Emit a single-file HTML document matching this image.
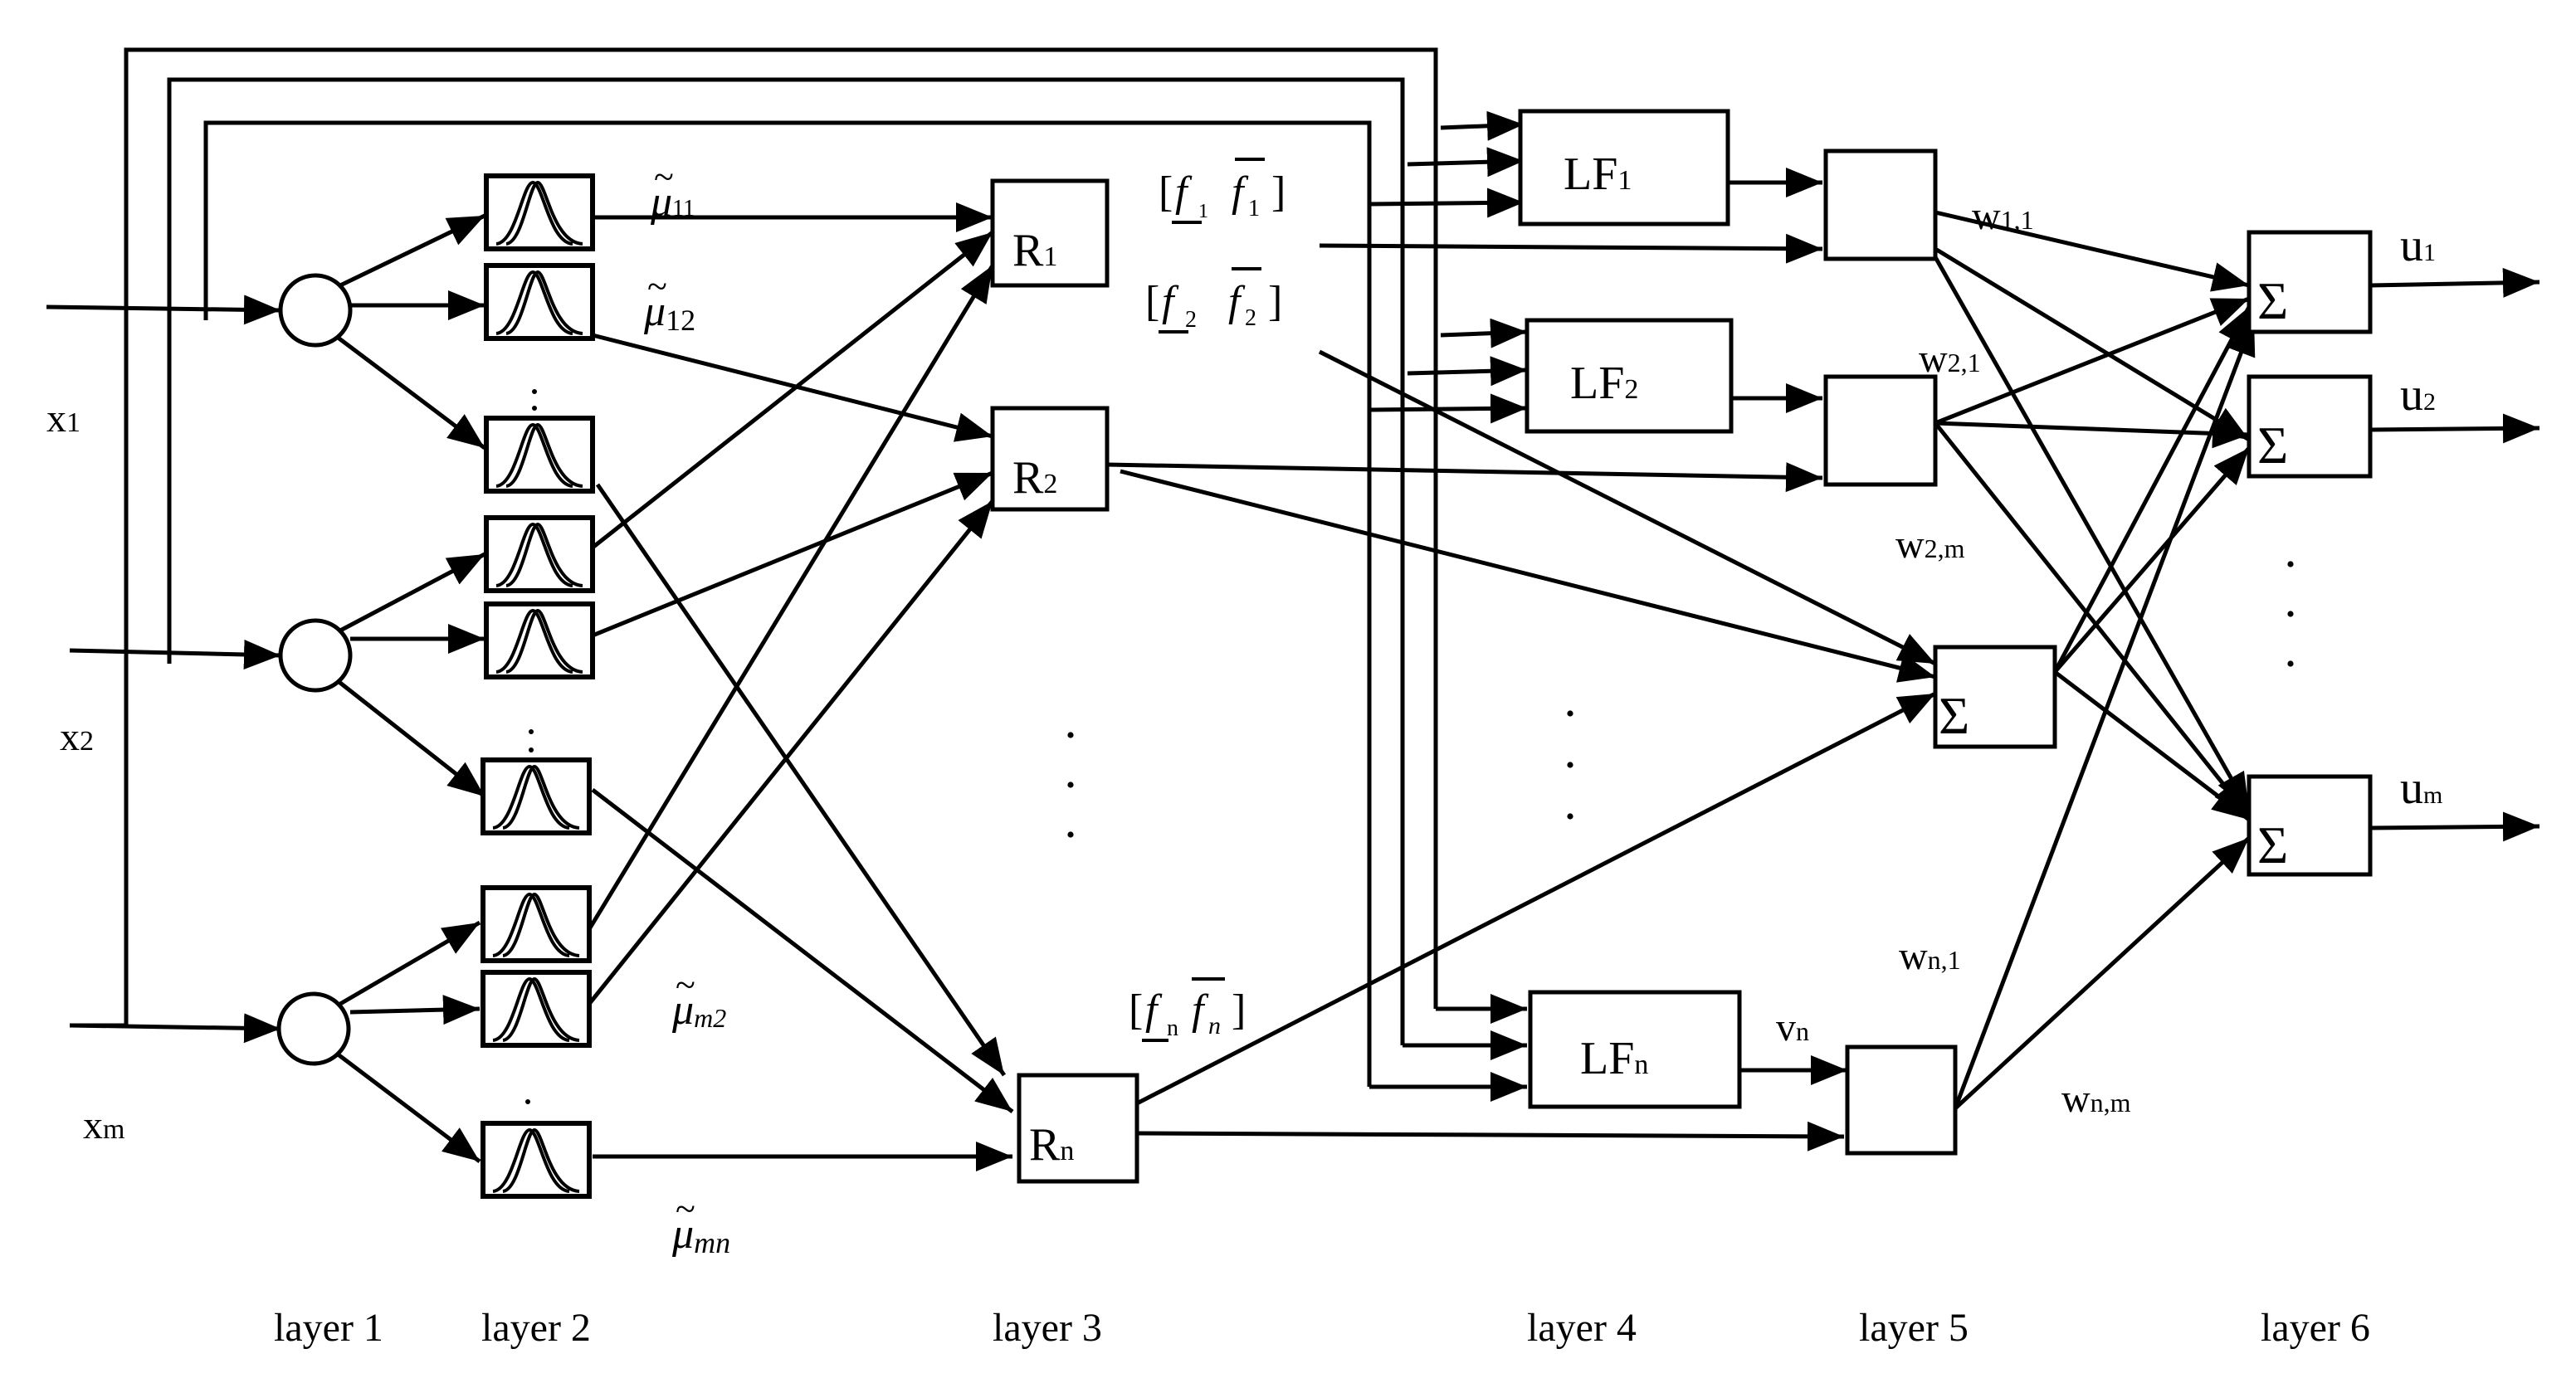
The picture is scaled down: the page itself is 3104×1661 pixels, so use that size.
<!DOCTYPE html>
<html><head><meta charset="utf-8"><style>
html,body{margin:0;padding:0;background:#fff;}
svg{display:block;}
text{font-family:"Liberation Serif",serif;fill:#000;}
</style></head><body>
<svg width="3104" height="1661" viewBox="0 0 1552 830.5" xmlns="http://www.w3.org/2000/svg">
<defs>
<marker id="a" markerUnits="userSpaceOnUse" markerWidth="24" markerHeight="20" refX="22" refY="9" orient="auto">
<path d="M0,0 L22,9 L0,18 Z" fill="#000"/></marker>
<g id="g">
<rect x="0" y="0" width="64" height="44" fill="#fff" stroke="#000" stroke-width="3"/>
<path d="M6,41 C18,40 22,4 28,4 C34,4 38,40 52,41" fill="none" stroke="#000" stroke-width="2"/>
<path d="M12,41 C22,40 26,4 31,4 C36,4 40,40 58,41" fill="none" stroke="#000" stroke-width="2"/>
</g>
</defs>
<g fill="none" stroke="#000" stroke-width="2.5">
<polyline points="42,618 76,618 76,30 865,30 865,608"/>
<line x1="865" y1="608" x2="920" y2="608" marker-end="url(#a)"/>
<polyline points="102,400 102,48 845,48 845,630"/>
<line x1="845" y1="630" x2="920" y2="630" marker-end="url(#a)"/>
<polyline points="124,193 124,74 825,74 825,655"/>
<line x1="825" y1="655" x2="920" y2="655" marker-end="url(#a)"/>
<line x1="868" y1="77" x2="918" y2="75" marker-end="url(#a)"/>
<line x1="848" y1="99" x2="918" y2="97" marker-end="url(#a)"/>
<line x1="825" y1="123" x2="918" y2="122" marker-end="url(#a)"/>
<line x1="868" y1="202" x2="920" y2="200" marker-end="url(#a)"/>
<line x1="848" y1="225" x2="920" y2="223" marker-end="url(#a)"/>
<line x1="825" y1="247" x2="920" y2="246" marker-end="url(#a)"/>
<line x1="28" y1="185" x2="169" y2="187" marker-end="url(#a)"/>
<line x1="42" y1="392" x2="169" y2="395" marker-end="url(#a)"/>
<line x1="42" y1="618" x2="169" y2="620" marker-end="url(#a)"/>
<line x1="205" y1="172" x2="292" y2="130" marker-end="url(#a)"/>
<line x1="211" y1="184" x2="292" y2="184" marker-end="url(#a)"/>
<line x1="203" y1="203" x2="292" y2="270" marker-end="url(#a)"/>
<line x1="205" y1="380" x2="292" y2="334" marker-end="url(#a)"/>
<line x1="211" y1="385" x2="292" y2="385" marker-end="url(#a)"/>
<line x1="203" y1="410" x2="292" y2="480" marker-end="url(#a)"/>
<line x1="205" y1="605" x2="289" y2="556" marker-end="url(#a)"/>
<line x1="211" y1="610" x2="289" y2="608" marker-end="url(#a)"/>
<line x1="203" y1="635" x2="289" y2="700" marker-end="url(#a)"/>
<line x1="357" y1="131" x2="598" y2="131" marker-end="url(#a)"/>
<line x1="357" y1="202" x2="598" y2="263" marker-end="url(#a)"/>
<line x1="360" y1="292" x2="605" y2="648" marker-end="url(#a)"/>
<line x1="357" y1="330" x2="598" y2="140" marker-end="url(#a)"/>
<line x1="357" y1="383" x2="598" y2="285" marker-end="url(#a)"/>
<line x1="357" y1="476" x2="610" y2="670" marker-end="url(#a)"/>
<line x1="355" y1="560" x2="598" y2="160" marker-end="url(#a)"/>
<line x1="355" y1="605" x2="598" y2="302" marker-end="url(#a)"/>
<line x1="357" y1="697" x2="610" y2="697" marker-end="url(#a)"/>
<line x1="795" y1="148" x2="1098" y2="150" marker-end="url(#a)"/>
<line x1="667" y1="280" x2="1098" y2="288" marker-end="url(#a)"/>
<line x1="675" y1="284" x2="1166" y2="408" marker-end="url(#a)"/>
<line x1="795" y1="212" x2="1166" y2="400" marker-end="url(#a)"/>
<line x1="685" y1="665" x2="1166" y2="418" marker-end="url(#a)"/>
<line x1="685" y1="683" x2="1111" y2="685" marker-end="url(#a)"/>
<line x1="1041" y1="110" x2="1098" y2="110" marker-end="url(#a)"/>
<line x1="1043" y1="240" x2="1098" y2="240" marker-end="url(#a)"/>
<line x1="1048" y1="645" x2="1113" y2="645" marker-end="url(#a)"/>
<line x1="1166" y1="128" x2="1355" y2="172" marker-end="url(#a)"/>
<line x1="1166" y1="150" x2="1355" y2="265" marker-end="url(#a)"/>
<line x1="1166" y1="155" x2="1355" y2="488" marker-end="url(#a)"/>
<line x1="1166" y1="255" x2="1355" y2="180" marker-end="url(#a)"/>
<line x1="1166" y1="255" x2="1355" y2="262" marker-end="url(#a)"/>
<line x1="1166" y1="255" x2="1355" y2="492" marker-end="url(#a)"/>
<line x1="1238" y1="405" x2="1355" y2="185" marker-end="url(#a)"/>
<line x1="1238" y1="405" x2="1355" y2="270" marker-end="url(#a)"/>
<line x1="1238" y1="405" x2="1355" y2="494" marker-end="url(#a)"/>
<line x1="1178" y1="668" x2="1358" y2="192" marker-end="url(#a)"/>
<line x1="1178" y1="668" x2="1355" y2="505" marker-end="url(#a)"/>
<line x1="1428" y1="172" x2="1530" y2="170" marker-end="url(#a)"/>
<line x1="1428" y1="259" x2="1530" y2="258" marker-end="url(#a)"/>
<line x1="1428" y1="499" x2="1530" y2="498" marker-end="url(#a)"/>
</g>
<g fill="#fff" stroke="#000" stroke-width="2.5">
<ellipse cx="190" cy="187" rx="21" ry="21"/>
<ellipse cx="190" cy="395" rx="21" ry="21"/>
<ellipse cx="189" cy="620" rx="21" ry="21"/>
<rect x="598" y="109" width="69" height="63"/>
<rect x="598" y="246" width="69" height="61"/>
<rect x="614" y="648" width="71" height="64"/>
<rect x="916" y="67" width="125" height="68"/>
<rect x="920" y="193" width="123" height="67"/>
<rect x="922" y="598" width="126" height="69"/>
<rect x="1100" y="91" width="66" height="65"/>
<rect x="1100" y="227" width="66" height="65"/>
<rect x="1113" y="631" width="65" height="64"/>
<rect x="1166" y="390" width="72" height="60"/>
<rect x="1355" y="140" width="73" height="60"/>
<rect x="1355" y="227" width="73" height="60"/>
<rect x="1355" y="468" width="73" height="59"/>
</g>
<use href="#g" x="293" y="106"/>
<use href="#g" x="293" y="160"/>
<use href="#g" x="293" y="252"/>
<use href="#g" x="293" y="312"/>
<use href="#g" x="293" y="364"/>
<use href="#g" x="291" y="458"/>
<use href="#g" x="291" y="535"/>
<use href="#g" x="291" y="586"/>
<use href="#g" x="291" y="677"/>
<g fill="#000">
<circle cx="322" cy="236" r="1.5"/><circle cx="322" cy="246" r="1.5"/>
<circle cx="320" cy="441" r="1.5"/><circle cx="320" cy="452" r="1.5"/>
<circle cx="318" cy="664" r="1.5"/>
<circle cx="645" cy="443" r="1.8"/><circle cx="645" cy="473" r="1.8"/><circle cx="645" cy="503" r="1.8"/>
<circle cx="946" cy="430" r="1.8"/><circle cx="946" cy="461" r="1.8"/><circle cx="946" cy="492" r="1.8"/>
<circle cx="1380" cy="340" r="1.8"/><circle cx="1380" cy="370" r="1.8"/><circle cx="1380" cy="400" r="1.8"/>
</g>
<g font-size="28">
<text x="610" y="160">R<tspan font-size="17">1</tspan></text>
<text x="610" y="297">R<tspan font-size="17">2</tspan></text>
<text x="620" y="699">R<tspan font-size="17">n</tspan></text>
<text x="942" y="114">LF<tspan font-size="17">1</tspan></text>
<text x="946" y="240">LF<tspan font-size="17">2</tspan></text>
<text x="952" y="647">LF<tspan font-size="17">n</tspan></text>
<text x="1168" y="442" font-size="32">Σ</text>
<text x="1360" y="192" font-size="32">Σ</text>
<text x="1360" y="279" font-size="32">Σ</text>
<text x="1360" y="520" font-size="32">Σ</text>
<text x="1446" y="157">u<tspan font-size="15">1</tspan></text>
<text x="1446" y="247">u<tspan font-size="15">2</tspan></text>
<text x="1446" y="484">u<tspan font-size="15">m</tspan></text>
</g>
<g font-size="24">
<text x="28" y="260">x<tspan font-size="17">1</tspan></text>
<text x="36" y="452">x<tspan font-size="17">2</tspan></text>
<text x="50" y="686">x<tspan font-size="17">m</tspan></text>
<text x="1188" y="138">w<tspan font-size="16">1,1</tspan></text>
<text x="1156" y="224">w<tspan font-size="16">2,1</tspan></text>
<text x="1142" y="336">w<tspan font-size="16">2,m</tspan></text>
<text x="1144" y="584">w<tspan font-size="16">n,1</tspan></text>
<text x="1242" y="670">w<tspan font-size="16">n,m</tspan></text>
<text x="1070" y="627">v<tspan font-size="16">n</tspan></text>
<text x="165" y="808">layer 1</text>
<text x="290" y="808">layer 2</text>
<text x="598" y="808">layer 3</text>
<text x="920" y="808">layer 4</text>
<text x="1120" y="808">layer 5</text>
<text x="1362" y="808">layer 6</text>
</g>
<g font-size="26" font-style="italic">
<text x="392" y="130">μ<tspan font-size="14" font-style="normal">11</tspan></text><text x="394" y="114" font-size="22" font-style="normal">~</text>
<text x="388" y="196">μ<tspan font-size="18" font-style="normal" dy="3">12</tspan></text><text x="390" y="180" font-size="22" font-style="normal">~</text>
<text x="405" y="617">μ<tspan font-size="16" dy="2">m2</tspan></text><text x="407" y="601" font-size="22" font-style="normal">~</text>
<text x="405" y="752">μ<tspan font-size="18" dy="3">mn</tspan></text><text x="407" y="736" font-size="22" font-style="normal">~</text>
</g>
<g font-size="26">
<text x="698" y="124">[</text><text x="708" y="124" font-style="italic">f</text><text x="722" y="131" font-size="12">1</text>
<text x="742" y="124" font-style="italic">f</text><text x="752" y="130" font-size="14">1</text><text x="766" y="124">]</text>
<line x1="706" y1="134" x2="724" y2="134" stroke="#000" stroke-width="2"/>
<line x1="744" y1="96" x2="762" y2="96" stroke="#000" stroke-width="2"/>
<text x="690" y="190">[</text><text x="700" y="190" font-style="italic">f</text><text x="714" y="197" font-size="14">2</text>
<text x="740" y="190" font-style="italic">f</text><text x="750" y="196" font-size="14">2</text><text x="764" y="190">]</text>
<line x1="698" y1="200" x2="716" y2="200" stroke="#000" stroke-width="2"/>
<line x1="742" y1="162" x2="760" y2="162" stroke="#000" stroke-width="2"/>
<text x="680" y="617">[</text><text x="690" y="617" font-style="italic">f</text><text x="703" y="624" font-size="14">n</text>
<text x="718" y="617" font-style="italic">f</text><text x="728" y="623" font-size="15" font-style="italic">n</text><text x="742" y="617">]</text>
<line x1="688" y1="627" x2="704" y2="627" stroke="#000" stroke-width="2"/>
<line x1="718" y1="590" x2="738" y2="590" stroke="#000" stroke-width="2"/>
</g>
</svg>
</body></html>
